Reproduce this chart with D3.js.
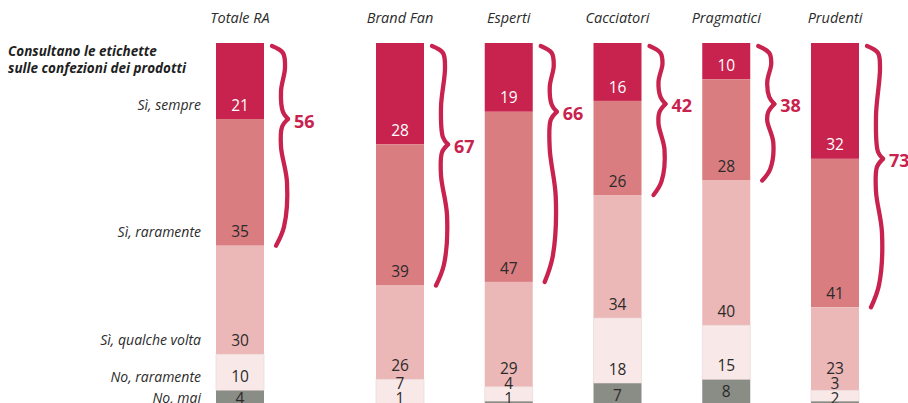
<!DOCTYPE html>
<html>
<head>
<meta charset="utf-8">
<script src="https://cdn.jsdelivr.net/npm/d3@7"></script>
<style>
  html, body { margin: 0; padding: 0; background: #fff; }
  svg { display: block; }
  text { font-family: "Open Sans", "Noto Sans", sans-serif; }
</style>
</head>
<body>
<svg id="chart" width="908" height="403"></svg>
<script>
// Segments of respondents who read product labels, answer shares in %
const groups = ["Totale RA", "Brand Fan", "Esperti", "Cacciatori", "Pragmatici", "Prudenti"];
const answers = ["Sì, sempre", "Sì, raramente", "Sì, qualche volta", "No, raramente", "No, mai"];

const siSempre       = [21, 28, 19, 16, 10, 32];
const siRaramente    = [35, 39, 47, 26, 28, 41];
const siQualcheVolta = [30, 26, 29, 34, 40, 23];
const noRaramente    = [10,  7,  4, 18, 15,  3];
const noMai          = [ 4,  1,  1,  7,  8,  2];

const titleLines = ["Consultano le etichette", "sulle confezioni dei prodotti"];

const series = [siSempre, siRaramente, siQualcheVolta, noRaramente, noMai];
const colors = ["#c8234e", "#d97d80", "#ebb8b7", "#f9e8e8", "#8a8c86"];
const labelColors = ["#ffffff", "#2b2b2b", "#2b2b2b", "#2b2b2b", "#2b2b2b"];
const accent = "#c8234e";

const svg = d3.select("#chart");

// Horizontal layout: the overall total stands apart from the five segments
const barW = 48;
const xSeg = d3.scaleBand()
  .domain(groups.slice(1))
  .range([376, 859])
  .paddingInner(1 - barW / 108.75)
  .paddingOuter(0);
const totalGap = 160;
const xLeft = g => g === groups[0] ? xSeg(groups[1]) - totalGap : xSeg(g);

const y = d3.scaleLinear().domain([0, 100]).range([43, 405]);

// Stack the answers per group
const rows = groups.map((g, i) => {
  const obj = { group: g };
  answers.forEach((a, k) => obj[a] = series[k][i]);
  return obj;
});
const stacked = d3.stack().keys(answers)(rows);

// Bars
const layers = svg.append("g").selectAll("g")
  .data(stacked)
  .join("g")
  .attr("fill", (d, k) => colors[k]);

layers.selectAll("rect")
  .data(d => d)
  .join("rect")
  .attr("x", d => xLeft(d.data.group))
  .attr("width", barW)
  .attr("y", d => y(d[0]))
  .attr("height", d => y(d[1]) - y(d[0]))
  .attr("stroke", function () {
    const k = d3.select(this.parentNode).datum().index;
    return k === 3 ? "#ecdcdc" : "none";
  })
  .attr("stroke-width", 0.8);

// Value label positions: near the bottom of each segment, pushed apart when crowded
function labelCenters(gi) {
  const segs = stacked.map(s => s[gi]);
  const c = segs.map((s, k) => k < segs.length - 1 ? y(s[1]) - 14 : Math.min(y(s[0]) + 12, 398));
  for (let k = c.length - 2; k >= 0; k--) c[k] = Math.min(c[k], c[k + 1] - 15);
  return c;
}

const valueG = svg.append("g")
  .attr("font-size", 15.5)
  .attr("text-anchor", "middle");

groups.forEach((g, gi) => {
  const centers = labelCenters(gi);
  series.forEach((vals, k) => {
    valueG.append("text")
      .attr("x", xLeft(g) + barW / 2)
      .attr("y", centers[k])
      .attr("dy", "0.36em")
      .attr("fill", labelColors[k])
      .text(vals[gi]);
  });
});

// Answer names beside the overall bar
const totalCenters = labelCenters(0);
svg.append("g")
  .attr("font-size", 14)
  .attr("font-style", "italic")
  .attr("fill", "#2b2b2b")
  .attr("text-anchor", "end")
  .selectAll("text")
  .data(answers)
  .join("text")
  .attr("x", xLeft(groups[0]) - 15)
  .attr("y", (d, k) => totalCenters[k])
  .attr("dy", "0.36em")
  .text(d => d);

// Group headers
svg.append("g")
  .attr("font-size", 14.5)
  .attr("font-style", "italic")
  .attr("fill", "#2b2b2b")
  .attr("text-anchor", "middle")
  .selectAll("text")
  .data(groups)
  .join("text")
  .attr("x", d => xLeft(d) + barW / 2)
  .attr("y", 23)
  .text(d => d);

// Title
svg.append("g")
  .attr("font-size", 13.5)
  .attr("font-style", "italic")
  .attr("font-weight", 700)
  .attr("fill", "#1f1f1f")
  .selectAll("text")
  .data(titleLines)
  .join("text")
  .attr("x", 8)
  .attr("y", (d, i) => 56 + i * 17)
  .text(d => d);

// Braces grouping the two "Sì" answers, with their combined share:
// each half is a smooth stroke through a few guide points, meeting at the tip
const curve = d3.line().curve(d3.curveCatmullRom.alpha(0.5));
function braceHalves(x0, y0, y1, tip) {
  const h1 = tip - y0, h2 = y1 - tip;
  const top = [
    [x0, y0], [x0 + 11, y0 + 7], [x0 + 13, y0 + Math.min(22, h1 * 0.3)],
    [x0 + 9, y0 + h1 * 0.62], [x0 + 11, tip - 7], [x0 + 16, tip]
  ];
  const bottom = [
    [x0 + 16, tip], [x0 + 10, tip + 8], [x0 + 9, tip + h2 * 0.22],
    [x0 + 15, tip + h2 * 0.5], [x0 + 12, tip + h2 * 0.85], [x0 + 4, y1]
  ];
  return [curve(top), curve(bottom)];
}

const braceG = svg.append("g");
groups.forEach((g, gi) => {
  const share = siSempre[gi] + siRaramente[gi];
  const x0 = xLeft(g) + barW + 8;
  const y0 = y(0) + 3;
  const y1 = y(share);
  const tip = Math.max(y(siSempre[gi]), y0 + 58);
  braceG.selectAll(null)
    .data(braceHalves(x0, y0, y1, tip))
    .join("path")
    .attr("d", d => d)
    .attr("fill", "none")
    .attr("stroke", accent)
    .attr("stroke-width", 4.3)
    .attr("stroke-linecap", "round")
    .attr("stroke-linejoin", "round");
  braceG.append("text")
    .attr("x", x0 + 22)
    .attr("y", tip + 2)
    .attr("dy", "0.36em")
    .attr("font-size", 18)
    .attr("font-weight", 700)
    .attr("fill", accent)
    .text(share);
});
</script>
</body>
</html>
